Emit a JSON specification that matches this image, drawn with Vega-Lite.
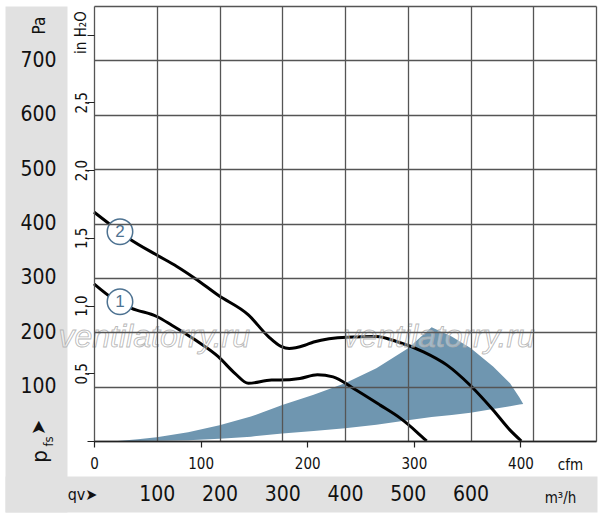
{
  "$schema": "https://vega.github.io/schema/vega-lite/v6.json",
  "width": 502,
  "height": 435,
  "autosize": "none",
  "padding": {"left": 94, "top": 6, "right": 4, "bottom": 75},
  "background": "#ffffff",
  "config": {
    "view": {"stroke": null},
    "font": "'Liberation Sans Narrow', 'DejaVu Sans Condensed', 'Liberation Sans', sans-serif",
    "axis": {
      "labelFont": "'Liberation Sans Narrow', 'DejaVu Sans Condensed', 'Liberation Sans', sans-serif",
      "titleFont": "'Liberation Sans Narrow', 'DejaVu Sans Condensed', 'Liberation Sans', sans-serif",
      "labelColor": "#111111",
      "titleColor": "#111111",
      "titleFontWeight": "normal",
      "labelOverlap": false,
      "labelFlush": false
    }
  },
  "datasets": {
    "anchor": [{"k": 0}],
    "curves": [
      {"curve": "2", "m3h": 0, "pa": 421},
      {"curve": "2", "m3h": 27, "pa": 397},
      {"curve": "2", "m3h": 55, "pa": 373},
      {"curve": "2", "m3h": 100, "pa": 342},
      {"curve": "2", "m3h": 132, "pa": 321},
      {"curve": "2", "m3h": 161, "pa": 299},
      {"curve": "2", "m3h": 198, "pa": 268},
      {"curve": "2", "m3h": 246, "pa": 232},
      {"curve": "2", "m3h": 278, "pa": 192},
      {"curve": "2", "m3h": 298, "pa": 174},
      {"curve": "2", "m3h": 311, "pa": 170},
      {"curve": "2", "m3h": 336, "pa": 176},
      {"curve": "2", "m3h": 350, "pa": 182},
      {"curve": "2", "m3h": 403, "pa": 191},
      {"curve": "2", "m3h": 450, "pa": 192},
      {"curve": "2", "m3h": 482, "pa": 183},
      {"curve": "2", "m3h": 525, "pa": 164},
      {"curve": "2", "m3h": 562, "pa": 140},
      {"curve": "2", "m3h": 599, "pa": 103},
      {"curve": "2", "m3h": 636, "pa": 57},
      {"curve": "2", "m3h": 663, "pa": 20},
      {"curve": "2", "m3h": 681, "pa": 0},
      {"curve": "1", "m3h": 0, "pa": 289},
      {"curve": "1", "m3h": 30, "pa": 262},
      {"curve": "1", "m3h": 60, "pa": 244},
      {"curve": "1", "m3h": 100, "pa": 229},
      {"curve": "1", "m3h": 124, "pa": 213},
      {"curve": "1", "m3h": 161, "pa": 186},
      {"curve": "1", "m3h": 198, "pa": 155},
      {"curve": "1", "m3h": 225, "pa": 124},
      {"curve": "1", "m3h": 246, "pa": 106},
      {"curve": "1", "m3h": 283, "pa": 112},
      {"curve": "1", "m3h": 296, "pa": 112},
      {"curve": "1", "m3h": 328, "pa": 115},
      {"curve": "1", "m3h": 356, "pa": 122},
      {"curve": "1", "m3h": 381, "pa": 118},
      {"curve": "1", "m3h": 413, "pa": 97},
      {"curve": "1", "m3h": 456, "pa": 66},
      {"curve": "1", "m3h": 488, "pa": 42},
      {"curve": "1", "m3h": 514, "pa": 17},
      {"curve": "1", "m3h": 530, "pa": 0}
    ],
    "zone": [
      {"m3h": 38, "upper": 0, "lower": 0},
      {"m3h": 70, "upper": 3, "lower": 0},
      {"m3h": 100, "upper": 7, "lower": 0.5},
      {"m3h": 150, "upper": 16, "lower": 1.5},
      {"m3h": 200, "upper": 29, "lower": 4},
      {"m3h": 250, "upper": 45, "lower": 8},
      {"m3h": 300, "upper": 66, "lower": 14},
      {"m3h": 350, "upper": 85, "lower": 18.5},
      {"m3h": 400, "upper": 106, "lower": 23.5},
      {"m3h": 450, "upper": 134, "lower": 30},
      {"m3h": 500, "upper": 170, "lower": 38},
      {"m3h": 538, "upper": 209, "lower": 44},
      {"m3h": 570, "upper": 192, "lower": 48},
      {"m3h": 600, "upper": 171, "lower": 52},
      {"m3h": 636, "upper": 137, "lower": 59},
      {"m3h": 663, "upper": 106, "lower": 64},
      {"m3h": 678, "upper": 80, "lower": 67},
      {"m3h": 684, "upper": 68, "lower": 68}
    ],
    "badges": [
      {"label": "1", "m3h": 41.4, "pa": 256},
      {"label": "2", "m3h": 41.4, "pa": 385}
    ],
    "watermark": [
      {"text": "ventilatorry.ru", "m3h": 96, "pa": 172},
      {"text": "ventilatorry.ru", "m3h": 550, "pa": 172}
    ]
  },
  "layer": [
    {
      "data": {"name": "anchor"},
      "mark": {"type": "point", "opacity": 0},
      "encoding": {
        "x": {
          "field": "k",
          "type": "quantitative",
          "scale": {"domain": [0, 1], "range": [-89, 503]},
          "axis": {
            "orient": "bottom", "offset": 53, "zindex": 1,
            "domainColor": "#e1e1e1", "domainWidth": 36,
            "ticks": false, "labels": false, "grid": false,
            "title": "qv➤", "titleX": -12, "titleY": 0, "titleAngle": 0,
            "titleAlign": "center", "titleBaseline": "middle", "titleFontSize": 16
          }
        },
        "y": {
          "field": "k",
          "type": "quantitative",
          "scale": {"domain": [0, 1], "range": [506, 0]},
          "axis": {
            "orient": "left", "offset": 58, "zindex": 0,
            "domainColor": "#e1e1e1", "domainWidth": 62,
            "ticks": false, "labels": false, "grid": false,
            "title": "➤", "titleX": 2, "titleY": 421, "titleAngle": -90,
            "titleAlign": "center", "titleBaseline": "middle", "titleFontSize": 20
          }
        }
      }
    },
    {
      "data": {"name": "anchor"},
      "mark": {"type": "point", "opacity": 0},
      "encoding": {
        "x": {
          "field": "k",
          "type": "quantitative",
          "scale": {"domain": [0, 1]},
          "axis": {
            "orient": "bottom", "zindex": 1, "domain": false,
            "ticks": false, "labels": false, "grid": false,
            "title": "fs", "titleX": -46, "titleY": 0, "titleAngle": -90,
            "titleAlign": "center", "titleBaseline": "middle", "titleFontSize": 13
          }
        },
        "y": {
          "field": "k",
          "type": "quantitative",
          "scale": {"domain": [0, 1]},
          "axis": {
            "orient": "left", "zindex": 1, "domain": false,
            "ticks": false, "labels": false, "grid": false,
            "title": "p", "titleX": -55, "titleY": 450, "titleAngle": -90,
            "titleAlign": "center", "titleBaseline": "middle", "titleFontSize": 22
          }
        }
      }
    },
    {
      "data": {"name": "anchor"},
      "mark": {"type": "point", "opacity": 0},
      "encoding": {
        "x": {
          "field": "k",
          "type": "quantitative",
          "scale": {"domain": [0, 470.86], "nice": false},
          "axis": {
            "orient": "bottom", "zindex": 1,
            "values": [0, 100, 200, 300, 400], "format": "d",
            "grid": false,
            "domain": true, "domainColor": "#222222", "domainWidth": 1.5,
            "ticks": true, "tickSize": 6, "tickColor": "#222222", "tickWidth": 1.2,
            "labelFontSize": 15, "labelPadding": 16, "labelBaseline": "middle",
            "title": "cfm", "titleX": 476, "titleY": 23, "titleAngle": 0,
            "titleAlign": "center", "titleBaseline": "middle", "titleFontSize": 15
          }
        },
        "y": {
          "field": "k",
          "type": "quantitative",
          "scale": {"domain": [0, 3.2117], "nice": false},
          "axis": {
            "orient": "left", "zindex": 1,
            "values": [0, 0.5, 1, 1.5, 2, 2.5, 3],
            "labelExpr": "datum.value == 0 || datum.value == 3 ? '' : replace(format(datum.value, '.1f'), '.', ',')",
            "labelAngle": -90, "labelAlign": "center", "labelBaseline": "alphabetic",
            "labelPadding": 1, "labelFontSize": 15,
            "ticks": true, "tickSize": 7, "tickColor": "#222222", "tickWidth": 1,
            "domain": false, "grid": false,
            "title": "in H₂O", "titleX": -14, "titleY": 26, "titleAngle": -90,
            "titleAlign": "center", "titleBaseline": "middle", "titleFontSize": 15
          }
        }
      }
    },
    {
      "layer": [
        {
          "data": {"name": "zone"},
          "mark": {"type": "area", "color": "#6f96b0", "interpolate": "linear"},
          "encoding": {
            "x": {
              "field": "m3h",
              "type": "quantitative",
              "title": "m³/h",
              "scale": {"domain": [0, 800], "nice": false},
              "axis": {
                "orient": "bottom", "zindex": 1,
                "values": [0, 100, 200, 300, 400, 500, 600, 700, 800],
                "labelExpr": "datum.value >= 100 && datum.value <= 600 ? datum.label : ''",
                "grid": true, "gridColor": "#555555", "gridWidth": 1.3,
                "domain": false, "ticks": false, "tickSize": 0,
                "labelFontSize": 21, "labelPadding": 53, "labelBaseline": "middle",
                "titleX": 466, "titleY": 56, "titleAngle": 0,
                "titleAlign": "center", "titleBaseline": "middle", "titleFontSize": 15
              }
            },
            "y": {
              "field": "upper",
              "type": "quantitative",
              "title": "Pa",
              "scale": {"domain": [0, 800], "nice": false},
              "axis": {
                "orient": "left", "zindex": 1,
                "values": [0, 100, 200, 300, 400, 500, 600, 700, 800],
                "labelExpr": "datum.value >= 100 && datum.value <= 700 ? datum.label : ''",
                "grid": true, "gridColor": "#555555", "gridWidth": 1.3,
                "domain": false, "ticks": false, "tickSize": 0,
                "labelFontSize": 21, "labelPadding": 38,
                "labelAlign": "right", "labelBaseline": "middle",
                "titleX": -55, "titleY": 19, "titleAngle": -90,
                "titleAlign": "center", "titleBaseline": "middle", "titleFontSize": 17
              }
            },
            "y2": {"field": "lower"}
          }
        },
        {
          "data": {"name": "curves"},
          "mark": {"type": "line", "color": "#000000", "strokeWidth": 3, "interpolate": "monotone"},
          "encoding": {
            "x": {"field": "m3h", "type": "quantitative", "title": "m³/h"},
            "y": {"field": "pa", "type": "quantitative", "title": "Pa"},
            "detail": {"field": "curve", "type": "nominal"}
          }
        },
        {
          "data": {"name": "badges"},
          "mark": {"type": "point", "shape": "circle", "filled": true, "fill": "#ffffff", "stroke": "#4d7291", "strokeWidth": 1.5, "size": 650, "opacity": 1},
          "encoding": {
            "x": {"field": "m3h", "type": "quantitative", "title": "m³/h"},
            "y": {"field": "pa", "type": "quantitative", "title": "Pa"}
          }
        },
        {
          "data": {"name": "badges"},
          "mark": {"type": "text", "color": "#4d7291", "fontSize": 17, "align": "center", "baseline": "middle", "font": "'Liberation Sans', sans-serif"},
          "encoding": {
            "x": {"field": "m3h", "type": "quantitative", "title": "m³/h"},
            "y": {"field": "pa", "type": "quantitative", "title": "Pa"},
            "text": {"field": "label"}
          }
        },
        {
          "data": {"name": "watermark"},
          "mark": {"type": "text", "fontSize": 32, "fontStyle": "italic", "align": "center", "baseline": "alphabetic", "font": "'Liberation Sans', sans-serif", "fill": "#ffffff", "fillOpacity": 0.35, "stroke": "#adadad", "strokeWidth": 0.9, "strokeOpacity": 0.85},
          "encoding": {
            "x": {"field": "m3h", "type": "quantitative", "title": "m³/h"},
            "y": {"field": "pa", "type": "quantitative", "title": "Pa"},
            "text": {"field": "text"}
          }
        }
      ]
    }
  ],
  "resolve": {
    "scale": {"x": "independent", "y": "independent"},
    "axis": {"x": "independent", "y": "independent"}
  }
}
